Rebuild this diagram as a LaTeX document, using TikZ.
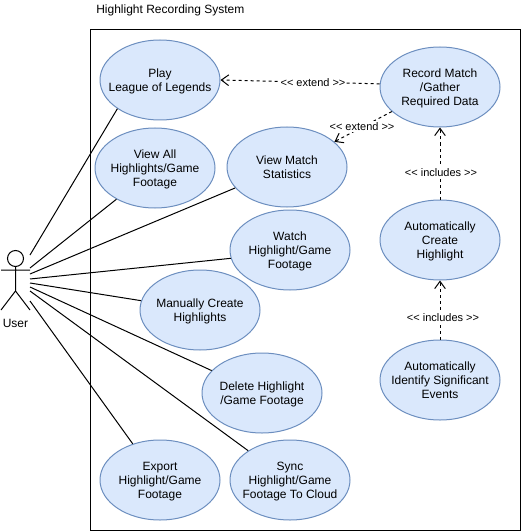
\documentclass[tikz,border=0pt]{standalone}
\usepackage{fontspec}
\setmainfont{Liberation Sans}
\usetikzlibrary{shapes.geometric,arrows.meta}
\definecolor{ucfill}{HTML}{DAE8FC}
\definecolor{ucline}{HTML}{6C8EBF}
\newcommand{\uctxt}[1]{\raisebox{-1.4pt}[\height][\depth]{\begin{tabular}{@{}c@{}}#1\end{tabular}}}
\tikzset{
  usecase/.style={ellipse,draw=ucline,fill=ucfill,line width=0.75pt,minimum width=90pt,minimum height=60pt,inner xsep=-20pt,inner ysep=-20pt,font=\fontsize{9}{10.5}\selectfont},
  assoc/.style={draw=black,line width=0.75pt},
  dep/.style={draw=black,line width=0.75pt,dashed,dash pattern=on 2.25pt off 2.25pt,-{Straight Barb[length=5.5pt,width=8pt]}},
  deplabel/.style={fill=white,inner sep=0.8pt,font=\fontsize{8.25}{9.5}\selectfont},
  plain/.style={inner sep=0pt,font=\fontsize{9}{10.5}\selectfont}
}
\begin{document}
\begin{tikzpicture}[x=0.75pt,y=-0.75pt]
\useasboundingbox (0,0) rectangle (521,531);
\draw[line width=0.75pt] (90,30) rectangle (520,530);
\node[plain,anchor=west] (title) at (96,10) {Highlight Recording System};
% actor
\draw[line width=0.75pt] (15.5,258.5) circle (8);
\draw[line width=0.75pt] (15.5,266.5) -- (15.5,291) (1,270) -- (30,270) (1,310) -- (15.5,291) -- (30,310);
\node[plain] (user) at (15.5,323.5) {User};
\coordinate (a1) at (30,255);
\coordinate (a2) at (30,268);
\coordinate (a3) at (30,274);
\coordinate (a4) at (30,279);
\coordinate (a5) at (30,283);
\coordinate (a6) at (30,287);
\coordinate (a7) at (30,291);
\coordinate (a8) at (30,301);
% use cases
\node[usecase] (play) at (160,80) {\uctxt{Play\\League of Legends}};
\node[usecase] (viewall) at (155,168) {\uctxt{View All\\Highlights/Game\\Footage}};
\node[usecase] (stats) at (287,167) {\uctxt{View Match\\Statistics}};
\node[usecase] (watch) at (290,250) {\uctxt{Watch\\Highlight/Game\\Footage}};
\node[usecase] (manual) at (200,310) {\uctxt{Manually Create\\Highlights}};
\node[usecase] (delete) at (262,393) {\uctxt{Delete Highlight\\/Game Footage}};
\node[usecase] (export) at (160,480) {\uctxt{Export\\Highlight/Game\\Footage}};
\node[usecase] (sync) at (290,480) {\uctxt{Sync\\Highlight/Game\\Footage To Cloud}};
\node[usecase] (record) at (440,87) {\uctxt{Record Match\\/Gather\\Required Data}};
\node[usecase] (create) at (440,240) {\uctxt{Automatically\\Create\\Highlight}};
\node[usecase] (identify) at (440,380) {\uctxt{Automatically\\Identify Significant\\Events}};
% associations
\draw[assoc] (a1) -- (play.214);
\draw[assoc] (a2) -- (viewall.219);
\draw[assoc] (a3) -- (stats.202);
\draw[assoc] (a4) -- (watch.188);
\draw[assoc] (a5) -- (manual.171);
\draw[assoc] (a6) -- (delete.156);
\draw[assoc] (a7) -- (sync.145);
\draw[assoc] (a8) -- (export.127);
% dependencies
\draw[dep] (record.177) -- (play.east);
\draw[dep] (record.207) -- (stats.28);
\draw[dep] (create.north) -- (record.south);
\draw[dep] (identify.north) -- (create.south);
\node[deplabel] (l1) at (313,82.5) {<{}< extend >{}>};
\node[deplabel] (l2) at (362,126.5) {<{}< extend >{}>};
\node[deplabel] (l3) at (441,172.5) {<{}< includes >{}>};
\node[deplabel] (l4) at (443,317.5) {<{}< includes >{}>};
\end{tikzpicture}
\end{document}
